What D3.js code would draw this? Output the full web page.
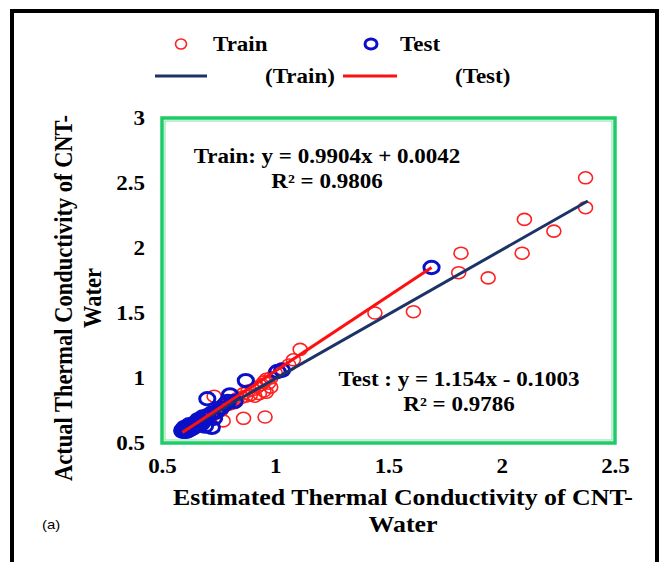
<!DOCTYPE html>
<html>
<head>
<meta charset="utf-8">
<script src="https://cdnjs.cloudflare.com/ajax/libs/d3/7.8.5/d3.min.js"></script>
<style>
  html, body { margin: 0; padding: 0; background: #fff; }
  svg { display: block; }
</style>
</head>
<body>
<svg id="chart" width="666" height="562"></svg>
<script>
// ---- data (estimated, actual) ----
const trainPoints = [
  [2.37,2.54],[2.37,2.31],[2.10,2.22],[2.23,2.13],[2.09,1.96],[1.82,1.96],[1.81,1.81],[1.94,1.77],
  [1.44,1.50],[1.61,1.51],[1.11,1.22],[1.08,1.14],[1.06,1.10],[1.03,1.07],[1.00,1.04],[0.98,1.00],
  [0.97,0.96],[0.98,0.93],[0.95,0.90],[0.93,0.88],[0.91,0.86],[0.89,0.87],[0.96,0.89],
  [0.77,0.67],[0.86,0.69],[0.955,0.70],[0.73,0.86],
  [0.59,0.59],[0.60,0.61],[0.61,0.60],[0.62,0.63],[0.63,0.62],[0.64,0.65],[0.65,0.64],[0.66,0.67],
  [0.67,0.66],[0.68,0.69],[0.69,0.70],[0.70,0.70],[0.71,0.72],[0.72,0.71],[0.73,0.74],[0.74,0.73],
  [0.75,0.76],[0.76,0.75],[0.77,0.78],[0.78,0.79],[0.80,0.80],[0.81,0.82],[0.82,0.81],[0.83,0.84],
  [0.85,0.85],[0.86,0.88],[0.87,0.86],[0.88,0.90],[0.90,0.91],[0.92,0.93],[0.94,0.95],[0.95,0.97],[0.96,0.99]
];
const testPoints = [
  [1.69,1.85],[1.01,1.05],[1.03,1.06],[0.87,0.98],[0.70,0.84],[0.80,0.87],[0.78,0.80],[0.72,0.62],
  [0.69,0.63],[0.82,0.82],[0.79,0.82],[0.76,0.77],[0.74,0.74],[0.72,0.73],[0.70,0.71],[0.68,0.70],
  [0.66,0.68],[0.65,0.66],[0.64,0.64],[0.63,0.63],[0.62,0.62],[0.61,0.61],[0.60,0.60],[0.60,0.59],
  [0.59,0.59],[0.59,0.60],[0.61,0.59],[0.62,0.60],[0.63,0.61],[0.64,0.62],[0.60,0.62],[0.62,0.64],
  [0.66,0.65],[0.67,0.64],[0.68,0.66],[0.73,0.69]
];
// trendlines: [slope, intercept], x extent
const trainFit = [0.9904, 0.0042];
const trainFitRange = [0.59, 2.38];
const testFit = [1.154, -0.1003];
const testFitRange = [0.59, 1.69];
const xTicks = [0.5, 1, 1.5, 2, 2.5];
const yTicks = [0.5, 1, 1.5, 2, 2.5, 3];
const trainEq = ["Train: y = 0.9904x + 0.0042", "R\u00B2 = 0.9806"];
const testEq = ["Test : y = 1.154x - 0.1003", "R\u00B2 = 0.9786"];
const legendLabels = ["Train", "Test", "(Train)", "(Test)"];
const xTitle = ["Estimated Thermal Conductivity of CNT-", "Water"];
const yTitle = ["Actual Thermal Conductivity of CNT-", "Water"];

// ---- styles ----
const SX = 1.15; // horizontal stretch of the reference
const serif = "'Liberation Serif', 'Times New Roman', serif";
const RED = "#ff2020", BLUE = "#0a10c8", NAVY = "#1b3366", LRED = "#ff1010", GREEN = "#1fcb68";

const svg = d3.select("#chart");
const x = d3.scaleLinear().domain([0.5, 2.5]).range([162, 615]);
const y = d3.scaleLinear().domain([0.5, 3]).range([443, 118]);

function txt(px, py, s, size, anchor, weight, family, rot) {
  return svg.append("text")
    .attr("transform", `translate(${px},${py}) scale(${SX},1)` + (rot ? ` rotate(${rot})` : ""))
    .attr("text-anchor", anchor || "start")
    .attr("font-family", family || serif)
    .attr("font-weight", weight || "bold")
    .attr("font-size", size)
    .attr("fill", "#000")
    .text(s);
}

// outer frame
svg.append("rect").attr("x", 12).attr("y", 11).attr("width", 645).attr("height", 580)
  .attr("fill", "none").attr("stroke", "#000").attr("stroke-width", 4);

// plot frame (double green line)
svg.append("rect").attr("x", x(0.5)).attr("y", y(3)).attr("width", x(2.5) - x(0.5)).attr("height", y(0.5) - y(3))
  .attr("fill", "none").attr("stroke", GREEN).attr("stroke-width", 3.5);
svg.append("rect").attr("x", x(0.5) + 3).attr("y", y(3) + 3).attr("width", x(2.5) - x(0.5) - 6).attr("height", y(0.5) - y(3) - 6)
  .attr("fill", "none").attr("stroke", "#7fe0a8").attr("stroke-width", 1);

// axes (labels only)
const xAxis = d3.axisBottom(x).tickValues(xTicks).tickSize(0).tickFormat(d3.format("~g"));
const yAxis = d3.axisLeft(y).tickValues(yTicks).tickSize(0).tickFormat(d3.format("~g"));
const gx = svg.append("g").attr("transform", `translate(0,${y(0.5)})`).call(xAxis);
const gy = svg.append("g").attr("transform", `translate(${x(0.5)},0)`).call(yAxis);
[gx, gy].forEach(g => {
  g.select(".domain").remove();
  g.selectAll("text").attr("font-family", serif).attr("font-weight", "bold")
    .attr("font-size", 20).attr("fill", "#000");
});
gx.selectAll(".tick text").attr("y", 0).attr("dy", 0)
  .attr("transform", `translate(0,30) scale(${SX},1)`);
gy.selectAll(".tick text").attr("x", 0).attr("dy", "0.34em")
  .attr("transform", `translate(-17,0) scale(${SX},1)`);

// points
const gp = svg.append("g");
gp.selectAll("ellipse.train").data(trainPoints).join("ellipse").attr("class", "train")
  .attr("cx", d => x(d[0])).attr("cy", d => y(d[1])).attr("rx", 7).attr("ry", 6)
  .attr("fill", "none").attr("stroke", RED).attr("stroke-width", 1.6);
gp.selectAll("ellipse.test").data(testPoints).join("ellipse").attr("class", "test")
  .attr("cx", d => x(d[0])).attr("cy", d => y(d[1])).attr("rx", 7.6).attr("ry", 6.2)
  .attr("fill", "none").attr("stroke", BLUE).attr("stroke-width", 3);

// trendlines
const line = d3.line().x(d => x(d[0])).y(d => y(d[1]));
function fitPts(fit, r) { return r.map(v => [v, fit[0] * v + fit[1]]); }
svg.append("path").attr("d", line(fitPts(trainFit, trainFitRange)))
  .attr("stroke", NAVY).attr("stroke-width", 3).attr("fill", "none");
svg.append("path").attr("d", line(fitPts(testFit, testFitRange)))
  .attr("stroke", LRED).attr("stroke-width", 3).attr("fill", "none");

// equations
txt(327, 163, trainEq[0], 20, "middle");
txt(327, 188, trainEq[1], 20, "middle");
txt(459, 386, testEq[0], 20, "middle");
txt(459, 411, testEq[1], 20, "middle");

// legend
svg.append("ellipse").attr("cx", 181).attr("cy", 44).attr("rx", 5.5).attr("ry", 5)
  .attr("fill", "none").attr("stroke", RED).attr("stroke-width", 1.6);
txt(213, 51, legendLabels[0], 20, "start");
svg.append("ellipse").attr("cx", 371).attr("cy", 44).attr("rx", 6).attr("ry", 5)
  .attr("fill", "none").attr("stroke", BLUE).attr("stroke-width", 3);
txt(400, 51, legendLabels[1], 20, "start");
svg.append("line").attr("x1", 155).attr("x2", 207).attr("y1", 76).attr("y2", 76)
  .attr("stroke", NAVY).attr("stroke-width", 3);
txt(265, 83, legendLabels[2], 20, "start");
svg.append("line").attr("x1", 343).attr("x2", 397).attr("y1", 76).attr("y2", 76)
  .attr("stroke", LRED).attr("stroke-width", 3);
txt(455, 83, legendLabels[3], 20, "start");

// axis titles
txt(403, 505, xTitle[0], 22.5, "middle");
txt(403, 532, xTitle[1], 22.5, "middle");
txt(72, 298, yTitle[0], 22.5, "middle", "bold", serif, -90);
txt(101, 298, yTitle[1], 22.5, "middle", "bold", serif, -90);

// panel label
txt(42, 529, "(a)", 13, "start", "normal", "'Liberation Sans', Arial, sans-serif");
</script>
</body>
</html>
